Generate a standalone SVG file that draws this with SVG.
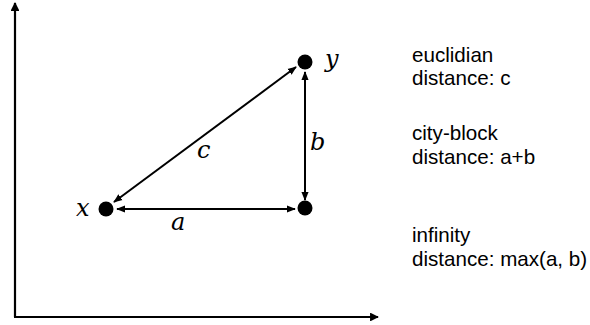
<svg xmlns="http://www.w3.org/2000/svg" width="590" height="325" viewBox="0 0 590 325">
<style>
.ln{stroke:#000;stroke-width:2;fill:none}
.ax{stroke:#000;stroke-width:2.2;fill:none}
.m{font-family:"DejaVu Serif","Liberation Serif",serif;font-style:italic;font-size:24px;fill:#000}
.t{font-family:"Liberation Sans",Arial,sans-serif;font-size:20.6px;fill:#000}
</style>
<defs>
<marker id="ah" viewBox="0 0 10 10" refX="9" refY="5" markerWidth="4.5" markerHeight="4.5" orient="auto-start-reverse" markerUnits="strokeWidth">
<path d="M0,1 L10,5 L0,9 Z" fill="#000"/>
</marker>
<marker id="axh" viewBox="0 0 10 10" refX="9" refY="5" markerWidth="4" markerHeight="4" orient="auto" markerUnits="strokeWidth">
<path d="M0,0 L10,5 L0,10 Z" fill="#000"/>
</marker>
</defs>
<g id="connectors">
<line class="ax" x1="15" y1="317" x2="15" y2="3" marker-end="url(#axh)"/>
<line class="ax" x1="14" y1="317" x2="378" y2="317" marker-end="url(#axh)"/>
<line class="ln" x1="117" y1="209" x2="295" y2="209" marker-start="url(#ah)" marker-end="url(#ah)"/>
<line class="ln" x1="305" y1="72" x2="305" y2="200" marker-start="url(#ah)" marker-end="url(#ah)"/>
<line class="ln" x1="114" y1="202" x2="296" y2="67" marker-start="url(#ah)" marker-end="url(#ah)"/>
</g>
<g id="node-x">
<circle cx="106" cy="209" r="7.5" fill="#000"/>
<text class="m" x="76" y="216">x</text>
</g>
<g id="node-corner">
<circle cx="305" cy="208" r="7.5" fill="#000"/>
</g>
<g id="node-y">
<circle cx="305" cy="62" r="7.5" fill="#000"/>
<text class="m" x="325" y="67">y</text>
</g>
<g id="labels">
<text class="m" x="171" y="230">a</text>
<text class="m" x="310" y="150">b</text>
<text class="m" x="197" y="158">c</text>
</g>
<g id="legend">
<text class="t" x="412" y="62">euclidian</text>
<text class="t" x="412" y="85">distance: c</text>
<text class="t" x="412" y="140">city-block</text>
<text class="t" x="412" y="164">distance: a+b</text>
<text class="t" x="412" y="242">infinity</text>
<text class="t" x="412" y="266">distance: max(a, b)</text>
</g>
</svg>
